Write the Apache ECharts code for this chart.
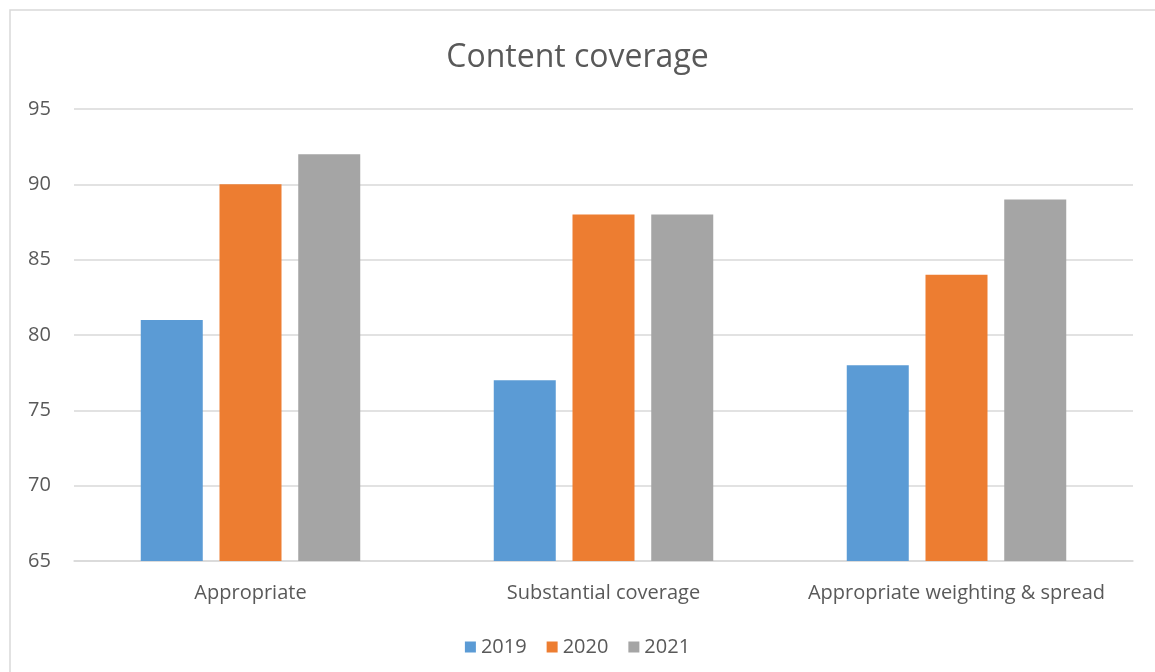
<!DOCTYPE html>
<html><head><meta charset="utf-8">
<script src="https://cdn.jsdelivr.net/npm/echarts@6/dist/echarts.min.js"></script>
<style>html,body{margin:0;padding:0;background:#fff}#c{width:1155px;height:672px}</style>
</head><body><div id="c"></div>
<script>
const categories = ['Appropriate', 'Substantial coverage', 'Appropriate weighting & spread'];
const years = ['2019', '2020', '2021'];
const v2019 = [81, 77, 78];
const v2020 = [90, 88, 84];
const v2021 = [92, 88, 89];
const colors = ['#5B9BD5', '#ED7D31', '#A5A5A5'];
const font = 'Open Sans';
const chart = echarts.init(document.getElementById('c'));
const seriesData = [v2019, v2020, v2021];
chart.setOption({
  animation: false,
  title: { text: 'Content coverage', left: 'center', top: 37, textStyle: { fontFamily: font, fontSize: 32, fontWeight: 'normal', color: '#595959' } },
  graphic: [{ type: 'rect', shape: { x: 10, y: 10, width: 1170, height: 700 }, style: { fill: 'none', stroke: '#D9D9D9', lineWidth: 1.5 }, z: -1 }],
  legend: { bottom: 10, left: 'center', itemWidth: 11, itemHeight: 11, itemGap: 20, icon: 'rect', textStyle: { fontFamily: font, fontSize: 20, color: '#595959' }, data: years },
  grid: { left: 74, right: 22, top: 109, bottom: 111 },
  xAxis: { type: 'category', data: categories, axisTick: { show: false }, axisLine: { lineStyle: { color: '#D9D9D9', width: 1.5 } }, axisLabel: { interval: 0, fontFamily: font, fontSize: 20, color: '#595959', margin: 22 } },
  yAxis: { type: 'value', min: 65, max: 95, interval: 5, axisLine: { show: false }, axisTick: { show: false }, splitLine: { lineStyle: { color: '#D9D9D9', width: 1.5 } }, axisLabel: { fontFamily: font, fontSize: 20, color: '#595959', margin: 46, align: 'left' } },
  series: years.map((y, i) => ({ name: y, type: 'bar', data: seriesData[i], barWidth: 62, barGap: '27%', itemStyle: { color: colors[i] } }))
});
</script></body></html>
